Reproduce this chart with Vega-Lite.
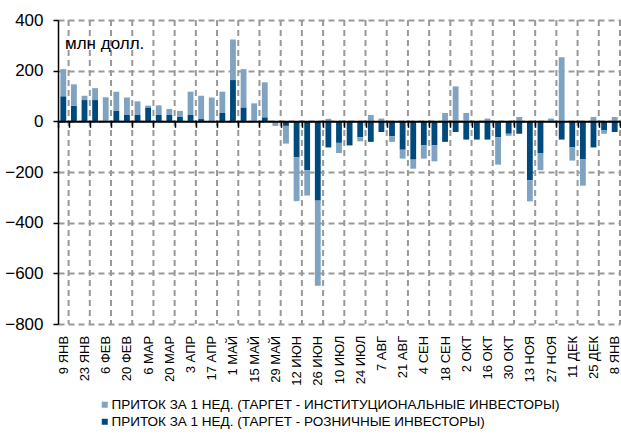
{
  "$schema": "https://vega.github.io/schema/vega-lite/v6.json",
  "width": 562,
  "height": 304,
  "autosize": {"type": "none"},
  "padding": {"left": 58, "top": 20, "right": 1, "bottom": 120},
  "config": {
    "font": "Liberation Sans",
    "view": {"stroke": "transparent"}
  },
  "title": {"text": "млн долл.", "anchor": "start", "frame": "group", "orient": "top", "offset": -27, "dy": 28, "dx": 7, "fontSize": 17, "fontWeight": "normal", "color": "#000", "baseline": "alphabetic", "font": "Liberation Sans"},
  "data": {"values": [
    {"w": "9 ЯНВ", "r": 99, "i": 107},
    {"w": "16 ЯНВ", "r": 62, "i": 84},
    {"w": "23 ЯНВ", "r": 84, "i": 17},
    {"w": "30 ЯНВ", "r": 84, "i": 47},
    {"w": "6 ФЕВ", "r": 0, "i": 95},
    {"w": "13 ФЕВ", "r": 41, "i": 76},
    {"w": "20 ФЕВ", "r": 25, "i": 69},
    {"w": "27 ФЕВ", "r": 25, "i": 54},
    {"w": "6 МАР", "r": 55, "i": 7},
    {"w": "13 МАР", "r": 25, "i": 38},
    {"w": "20 МАР", "r": 25, "i": 24},
    {"w": "27 МАР", "r": 17, "i": 24},
    {"w": "3 АПР", "r": 25, "i": 92},
    {"w": "10 АПР", "r": 9, "i": 92},
    {"w": "17 АПР", "r": 0, "i": 94},
    {"w": "24 АПР", "r": 33, "i": 84},
    {"w": "1 МАЙ", "r": 163, "i": 160},
    {"w": "8 МАЙ", "r": 55, "i": 151},
    {"w": "15 МАЙ", "r": 0, "i": 71},
    {"w": "22 МАЙ", "r": 16, "i": 138},
    {"w": "29 МАЙ", "r": 0, "i": -18},
    {"w": "5 ИЮН", "r": -18, "i": -70},
    {"w": "12 ИЮН", "r": -142, "i": -173},
    {"w": "19 ИЮН", "r": -193, "i": -100},
    {"w": "26 ИЮН", "r": -313, "i": -336},
    {"w": "3 ИЮЛ", "r": -103, "i": 10},
    {"w": "10 ИЮЛ", "r": -85, "i": -40},
    {"w": "17 ИЮЛ", "r": -95, "i": 0},
    {"w": "24 ИЮЛ", "r": -63, "i": -16},
    {"w": "31 ИЮЛ", "r": -81, "i": 25},
    {"w": "7 АВГ", "r": -42, "i": 11},
    {"w": "14 АВГ", "r": -59, "i": -22},
    {"w": "21 АВГ", "r": -112, "i": -35},
    {"w": "28 АВГ", "r": -151, "i": -36},
    {"w": "4 СЕН", "r": -95, "i": -52},
    {"w": "11 СЕН", "r": -95, "i": -63},
    {"w": "18 СЕН", "r": -81, "i": 33},
    {"w": "25 СЕН", "r": -42, "i": 138},
    {"w": "2 ОКТ", "r": -72, "i": 33},
    {"w": "9 ОКТ", "r": -72, "i": 0},
    {"w": "16 ОКТ", "r": -72, "i": 11},
    {"w": "23 ОКТ", "r": -63, "i": -108},
    {"w": "30 ОКТ", "r": -49, "i": -8},
    {"w": "6 НОЯ", "r": -49, "i": 17},
    {"w": "13 НОЯ", "r": -233, "i": -83},
    {"w": "20 НОЯ", "r": -125, "i": -68},
    {"w": "27 НОЯ", "r": 0, "i": 11},
    {"w": "4 ДЕК", "r": -72, "i": 253},
    {"w": "11 ДЕК", "r": -103, "i": -52},
    {"w": "18 ДЕК", "r": -149, "i": -105},
    {"w": "25 ДЕК", "r": -103, "i": 17},
    {"w": "1 ЯНВ", "r": -36, "i": -13},
    {"w": "8 ЯНВ", "r": -42, "i": 17}
  ]},
  "layer": [
    {
      "transform": [{"filter": {"field": "w", "oneOf": ["9 ЯНВ","23 ЯНВ","6 ФЕВ","20 ФЕВ","6 МАР","20 МАР","3 АПР","17 АПР","1 МАЙ","15 МАЙ","29 МАЙ","12 ИЮН","26 ИЮН","10 ИЮЛ","24 ИЮЛ","7 АВГ","21 АВГ","4 СЕН","18 СЕН","2 ОКТ","16 ОКТ","30 ОКТ","13 НОЯ","27 НОЯ","11 ДЕК","25 ДЕК","8 ЯНВ"]}}],
      "mark": {"type": "rule", "stroke": "#999999", "strokeDash": [6, 4], "strokeWidth": 2},
      "encoding": {
        "x": {"field": "w", "type": "ordinal", "bandPosition": 1},
        "y": {"datum": 400, "type": "quantitative"},
        "y2": {"datum": -800}
      }
    },
    {
      "transform": [{"fold": ["r", "i"], "as": ["s", "v"]}],
      "mark": {"type": "bar", "width": {"band": 0.55}},
      "encoding": {
        "x": {"field": "w", "type": "ordinal",
          "scale": {"paddingInner": 0, "paddingOuter": 0,
            "domain": ["9 ЯНВ","16 ЯНВ","23 ЯНВ","30 ЯНВ","6 ФЕВ","13 ФЕВ","20 ФЕВ","27 ФЕВ","6 МАР","13 МАР","20 МАР","27 МАР","3 АПР","10 АПР","17 АПР","24 АПР","1 МАЙ","8 МАЙ","15 МАЙ","22 МАЙ","29 МАЙ","5 ИЮН","12 ИЮН","19 ИЮН","26 ИЮН","3 ИЮЛ","10 ИЮЛ","17 ИЮЛ","24 ИЮЛ","31 ИЮЛ","7 АВГ","14 АВГ","21 АВГ","28 АВГ","4 СЕН","11 СЕН","18 СЕН","25 СЕН","2 ОКТ","9 ОКТ","16 ОКТ","23 ОКТ","30 ОКТ","6 НОЯ","13 НОЯ","20 НОЯ","27 НОЯ","4 ДЕК","11 ДЕК","18 ДЕК","25 ДЕК","1 ЯНВ","8 ЯНВ"]},
          "axis": {"values": ["9 ЯНВ","23 ЯНВ","6 ФЕВ","20 ФЕВ","6 МАР","20 МАР","3 АПР","17 АПР","1 МАЙ","15 МАЙ","29 МАЙ","12 ИЮН","26 ИЮН","10 ИЮЛ","24 ИЮЛ","7 АВГ","21 АВГ","4 СЕН","18 СЕН","2 ОКТ","16 ОКТ","30 ОКТ","13 НОЯ","27 НОЯ","11 ДЕК","25 ДЕК","8 ЯНВ"],
            "orient": "bottom", "offset": -202.67, "tickBand": "extent", "grid": false,
            "ticks": true, "tickSize": 6, "tickWidth": 1.5, "tickColor": "#000",
            "domain": true, "domainWidth": 2, "domainColor": "#000",
            "labelAngle": -90, "labelFontSize": 13, "labelColor": "#000", "labelPadding": 208, "title": null, "zindex": 1, "labelOverlap": false}},
        "y": {"field": "v", "type": "quantitative", "stack": "zero",
          "scale": {"domain": [-800, 400], "nice": false, "zero": false},
          "axis": {"values": [-800, -600, -400, -200, 0, 200, 400], "title": null,
            "grid": true, "gridColor": "#999999", "gridDash": [6, 4], "gridWidth": 2, "gridOpacity": 1,
            "labelFontSize": 17, "labelColor": "#000", "tickSize": 5, "tickWidth": 1.5, "tickColor": "#000", "domainWidth": 1.5, "domainColor": "#000", "labelPadding": 10, "labelFlush": false, "labelOverlap": false}},
        "color": {"field": "s", "type": "nominal",
          "scale": {"domain": ["i", "r"], "range": ["#7fa3c0", "#00497c"]},
          "legend": {"orient": "none", "legendX": 40, "legendY": 378, "title": null, "symbolType": "square", "symbolSize": 36, "symbolStrokeWidth": 0, "labelFontSize": 13.5, "labelColor": "#000", "rowPadding": 2, "labelLimit": 600, "direction": "vertical", "padding": 0, "labelOffset": 0,
            "labelExpr": "datum.value == 'i' ? 'ПРИТОК ЗА 1 НЕД. (ТАРГЕТ - ИНСТИТУЦИОНАЛЬНЫЕ  ИНВЕСТОРЫ)' : 'ПРИТОК ЗА 1 НЕД. (ТАРГЕТ - РОЗНИЧНЫЕ ИНВЕСТОРЫ)'"}},
        "order": {"field": "s", "sort": "descending"}
      }
    }
  ]
}
